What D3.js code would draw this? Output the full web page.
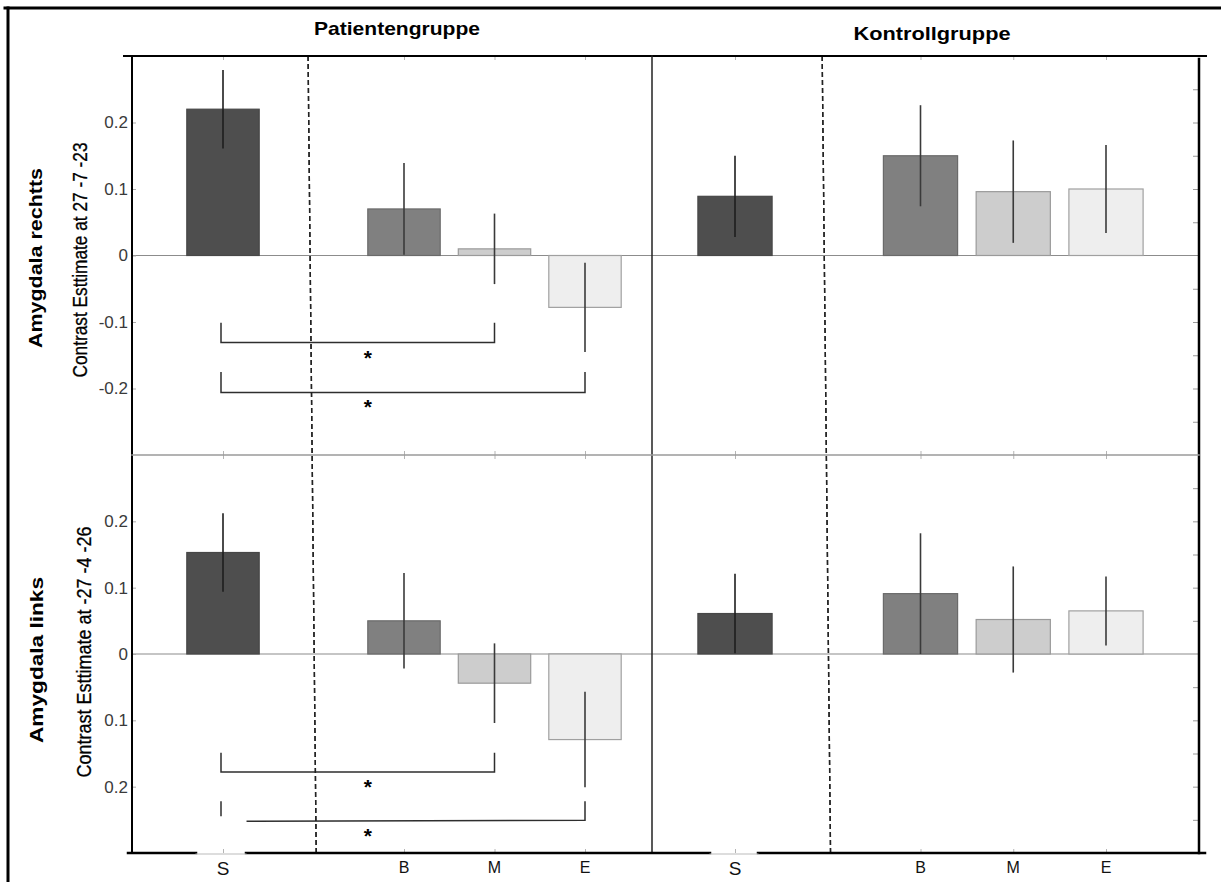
<!DOCTYPE html>
<html>
<head>
<meta charset="utf-8">
<script src="https://cdn.jsdelivr.net/npm/d3@7"></script>
<style>
  body { margin: 0; background: #fff; }
  svg { display: block; }
  text { font-family: "Liberation Sans", Arial, Helvetica, sans-serif; }
</style>
</head>
<body>
<svg id="chart" width="1221" height="882"></svg>
<script>
// Conditions on the x axis and where they sit (slot 1 is left empty for the separator)
const categories = ["S", "B", "M", "E"];
const slots = [0, 2, 3, 4];
const groups = ["Patientengruppe", "Kontrollgruppe"];
const regions = ["Amygdala rechtts", "Amygdala links"];
const contrastLabels = ["Contrast Esttimate at 27 -7 -23", "Contrast Esttimate at -27 -4 -26"];

// Y ticks
const yTicks = [0.2, 0.1, 0, -0.1, -0.2];
const yTickLabelsRechts = ["0.2", "0.1", "0", "-0.1", "-0.2"];
const yTickLabelsLinks = ["0.2", "0.1", "0", "0.1", "0.2"];
const minorTicks = [0.25, 0.2, 0.15, 0.1, 0.05, -0.05, -0.1, -0.15, -0.2, -0.25];

// Contrast estimates and error half-widths (S, B, M, E)
const rechtsPatient = [0.22, 0.07, 0.01, -0.078];
const rechtsPatientErr = [0.059, 0.069, 0.053, 0.067];
const linksPatient = [0.153, 0.05, -0.044, -0.129];
const linksPatientErr = [0.059, 0.072, 0.06, 0.072];
const rechtsKontroll = [0.089, 0.15, 0.096, 0.10];
const rechtsKontrollErr = [0.061, 0.076, 0.077, 0.066];
const linksKontroll = [0.061, 0.091, 0.052, 0.065];
const linksKontrollErr = [0.06, 0.091, 0.08, 0.052];

// Significance brackets (patient group only)
const bracketsRechts = [
  { from: "S", to: "M", level: -0.131, top: -0.101 },
  { from: "S", to: "E", level: -0.206, top: -0.175 }
];
const bracketsLinks = [
  { from: "S", to: "M", level: -0.178, top: -0.149 },
  { from: "S", to: "E", level: -0.252, top: -0.222, broken: true }
];

// Styling
const barFills = ["#4e4e4e", "#808080", "#cdcdcd", "#eeeeee"];
const barStrokes = ["#474747", "#6a6a6a", "#9a9a9a", "#a0a0a0"];

const svg = d3.select("#chart");
svg.append("rect").attr("width", 1221).attr("height", 882).attr("fill", "#fff");

const colX = [
  d3.scaleLinear().domain([0, 4]).range([223, 585]),
  d3.scaleLinear().domain([0, 4]).range([735, 1106])
];
const rowY = [
  d3.scaleLinear().domain([-0.3, 0.3]).range([455, 56]),
  d3.scaleLinear().domain([-0.3, 0.3]).range([853, 455])
];
const plotLeft = 132, plotMid = 652, plotRight = 1199, plotTop = 56, plotBottom = 853;

const panels = [
  { row: 0, col: 0, values: rechtsPatient, errors: rechtsPatientErr, brackets: bracketsRechts },
  { row: 0, col: 1, values: rechtsKontroll, errors: rechtsKontrollErr, brackets: [] },
  { row: 1, col: 0, values: linksPatient, errors: linksPatientErr, brackets: bracketsLinks },
  { row: 1, col: 1, values: linksKontroll, errors: linksKontrollErr, brackets: [] }
];

// zero lines
rowY.forEach(y => {
  svg.append("line")
    .attr("x1", plotLeft).attr("x2", plotRight)
    .attr("y1", y(0)).attr("y2", y(0))
    .attr("stroke", "#8c8c8c").attr("stroke-width", 1.2);
});

panels.forEach(p => {
  const x = colX[p.col], y = rowY[p.row];
  const unit = x(1) - x(0);
  const bw = unit * 0.8;
  const g = svg.append("g");
  const rows = categories.map((c, i) => ({ c, slot: slots[i], v: p.values[i], e: p.errors[i], i }));

  // category ticks on top and bottom of the panel
  const yTopPx = y.range()[1], yBotPx = y.range()[0];
  g.append("g").attr("transform", `translate(0,${yTopPx})`)
    .call(d3.axisBottom(x).tickValues(slots).tickSize(4).tickFormat(""))
    .call(a => a.select(".domain").remove())
    .call(a => a.selectAll("line").attr("stroke", "#b5b5b5"));
  g.append("g").attr("transform", `translate(0,${yBotPx})`)
    .call(d3.axisTop(x).tickValues(slots).tickSize(4).tickFormat(""))
    .call(a => a.select(".domain").remove())
    .call(a => a.selectAll("line").attr("stroke", "#b5b5b5"));

  g.selectAll("rect.bar").data(rows).join("rect")
    .attr("class", "bar")
    .attr("x", d => x(d.slot) - bw / 2)
    .attr("width", bw)
    .attr("y", d => Math.min(y(d.v), y(0)))
    .attr("height", d => Math.abs(y(d.v) - y(0)))
    .attr("fill", d => barFills[d.i])
    .attr("stroke", d => barStrokes[d.i])
    .attr("stroke-width", 1.2);

  g.selectAll("line.err").data(rows).join("line")
    .attr("class", "err")
    .attr("x1", d => x(d.slot)).attr("x2", d => x(d.slot))
    .attr("y1", d => y(d.v + d.e)).attr("y2", d => y(d.v - d.e))
    .attr("stroke", d => d.i === 0 ? "#1e1e1e" : "#3a3a3a")
    .attr("stroke-width", 1.6);

  // significance brackets
  p.brackets.forEach(b => {
    const x1 = x(slots[categories.indexOf(b.from)]) - 2;
    const x2 = x(slots[categories.indexOf(b.to)]);
    const yl = y(b.level), yt = y(b.top);
    const bg = g.append("g").attr("fill", "none").attr("stroke", "#2e2e2e").attr("stroke-width", 1.5);
    if (b.broken) {
      bg.append("line").attr("x1", x1).attr("x2", x1).attr("y1", yt).attr("y2", yl - 5);
      bg.append("polyline").attr("points", [[x(0.26), yl], [x2, yl - 1], [x2, yt]].join(" "));
    } else {
      bg.append("polyline").attr("points", [[x1, yt], [x1, yl], [x2, yl], [x2, yt]].join(" "));
    }
    g.append("text")
      .attr("x", x(1.6)).attr("y", yl + 22)
      .attr("text-anchor", "middle")
      .attr("font-size", 21).attr("font-weight", "bold").attr("fill", "#000")
      .text("*");
  });

  // separator between S and the B/M/E block
  g.append("line")
    .attr("x1", x(0.94)).attr("x2", x(1.03))
    .attr("y1", plotTop).attr("y2", plotBottom)
    .attr("stroke", "#222").attr("stroke-width", 1.4)
    .attr("stroke-dasharray", "5,3");

  if (p.col === 0) {
    const labels = p.row === 0 ? yTickLabelsRechts : yTickLabelsLinks;
    g.append("g").attr("transform", `translate(${plotLeft},0)`)
      .call(d3.axisLeft(y).tickValues(yTicks).tickSize(-4).tickPadding(4)
        .tickFormat((d, i) => labels[i]))
      .call(a => a.select(".domain").remove())
      .call(a => a.selectAll("line").attr("stroke", "#aaa"))
      .call(a => a.selectAll("text").attr("font-size", 17).attr("fill", "#3a3a3a")
        .attr("font-family", "'Liberation Sans', Arial, sans-serif"));
  } else {
    g.append("g").attr("transform", `translate(${plotRight},0)`)
      .call(d3.axisLeft(y).tickValues(minorTicks).tickSize(6).tickFormat(""))
      .call(a => a.select(".domain").remove())
      .call(a => a.selectAll("line").attr("stroke", "#999"));
  }
});

// frame lines
const frame = svg.append("g").attr("stroke-linecap", "square");
frame.append("line").attr("x1", 5).attr("x2", 1221).attr("y1", 8).attr("y2", 8).attr("stroke", "#000").attr("stroke-width", 3);
frame.append("line").attr("x1", 8).attr("x2", 8).attr("y1", 8).attr("y2", 882).attr("stroke", "#000").attr("stroke-width", 3);
frame.append("line").attr("x1", 124).attr("x2", 1206).attr("y1", plotTop).attr("y2", plotTop).attr("stroke", "#000").attr("stroke-width", 2);
frame.append("line").attr("x1", plotLeft).attr("x2", plotLeft).attr("y1", plotTop).attr("y2", plotBottom).attr("stroke", "#000").attr("stroke-width", 2);
frame.append("line").attr("x1", plotMid).attr("x2", plotMid).attr("y1", plotTop).attr("y2", plotBottom).attr("stroke", "#222").attr("stroke-width", 1.5);
frame.append("line").attr("x1", plotRight).attr("x2", plotRight).attr("y1", 59).attr("y2", plotBottom).attr("stroke", "#000").attr("stroke-width", 2.5);
frame.append("line").attr("x1", plotLeft).attr("x2", plotRight).attr("y1", 455).attr("y2", 455).attr("stroke", "#9a9a9a").attr("stroke-width", 1.5);
// bottom axis, with light gaps under the S labels
[[128, 196], [246, 710], [758, 1205]].forEach(([a, b]) =>
  frame.append("line").attr("x1", a).attr("x2", b).attr("y1", plotBottom).attr("y2", plotBottom).attr("stroke", "#000").attr("stroke-width", 2.5));
[[196, 246], [710, 758]].forEach(([a, b]) =>
  frame.append("line").attr("x1", a).attr("x2", b).attr("y1", plotBottom + 1).attr("y2", plotBottom + 1).attr("stroke", "#bbb").attr("stroke-width", 1));

// x labels
colX.forEach(x => {
  categories.forEach((c, i) => {
    svg.append("text")
      .attr("x", x(slots[i])).attr("y", i === 0 ? 875 : 873)
      .attr("text-anchor", "middle")
      .attr("font-size", i === 0 ? 19 : 16)
      .attr("fill", "#111")
      .text(c);
  });
});

// group titles
svg.append("text").attr("x", 397).attr("y", 35).attr("text-anchor", "middle")
  .attr("font-size", 19).attr("font-weight", "bold").attr("textLength", 166)
  .attr("lengthAdjust", "spacingAndGlyphs").text(groups[0]);
svg.append("text").attr("x", 932).attr("y", 40).attr("text-anchor", "middle")
  .attr("font-size", 19).attr("font-weight", "bold").attr("textLength", 157)
  .attr("lengthAdjust", "spacingAndGlyphs").text(groups[1]);

// row labels (rotated)
const rowLabelPos = [
  { cy: 258, bx: 42, len: 180, ccy: 260, cbx: 87, clen: 235 },
  { cy: 660, bx: 43, len: 166, ccy: 652, cbx: 91, clen: 251 }
];
rowLabelPos.forEach((r, i) => {
  svg.append("text")
    .attr("transform", `translate(${r.bx},${r.cy}) rotate(-90)`)
    .attr("text-anchor", "middle").attr("font-size", 19).attr("font-weight", "bold")
    .attr("textLength", r.len).attr("lengthAdjust", "spacingAndGlyphs")
    .text(regions[i]);
  svg.append("text")
    .attr("transform", `translate(${r.cbx},${r.ccy}) rotate(-90)`)
    .attr("text-anchor", "middle").attr("font-size", 20)
    .attr("font-family", "'Liberation Sans Narrow', 'Arial Narrow', 'Liberation Sans', Arial, sans-serif")
    .attr("textLength", r.clen).attr("lengthAdjust", "spacingAndGlyphs")
    .attr("fill", "#000").attr("stroke", "#000").attr("stroke-width", 0.3)
    .text(contrastLabels[i]);
});
</script>
</body>
</html>
